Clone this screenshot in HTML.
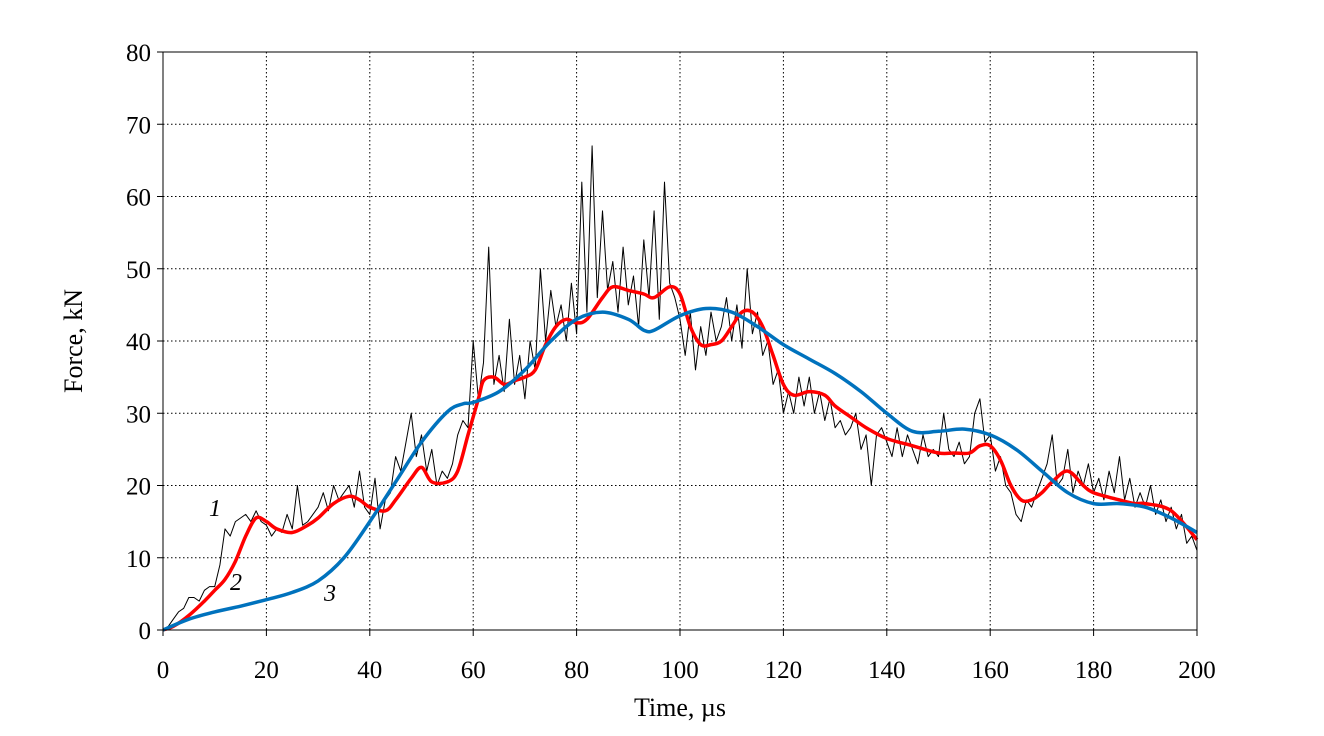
<!DOCTYPE html>
<html><head><meta charset="utf-8"><style>
body{margin:0;background:#fff;}
svg{display:block;font-family:"Liberation Serif",serif;}
</style></head><body>
<svg id="chart" width="1324" height="736">
<g id="grid"></g>
<g id="series"></g>
<rect x="163" y="52" width="1034" height="578" fill="none" stroke="#000" stroke-width="1"/>
<g id="ticks"></g>
<text x="680" y="716" font-size="26" text-anchor="middle">Time, µs</text>
<text x="0" y="0" font-size="26" text-anchor="middle" transform="translate(82,341) rotate(-90)">Force, kN</text>
<text x="215" y="516" font-size="24" font-style="italic" text-anchor="middle">1</text>
<text x="236" y="590" font-size="24" font-style="italic" text-anchor="middle">2</text>
<text x="330" y="601" font-size="24" font-style="italic" text-anchor="middle">3</text>
</svg>
<script>
const xTicks=[0,20,40,60,80,100,120,140,160,180,200];
const yTicks=[0,10,20,30,40,50,60,70,80];
const blueT=[0,5,10,15,20,25,30,35,40,45,50,55,58,60,65,70,75,80,85,90,93,95,100,105,110,115,120,125,130,135,140,145,150,155,160,165,170,175,180,185,190,195,200];
const blueV=[0,1.5,2.5,3.3,4.2,5.2,6.8,10,15,20.5,26,30.2,31.3,31.5,33,36,40,43,44,43,41.5,41.5,43.5,44.5,44,42,39.5,37.5,35.5,33,30,27.5,27.5,27.8,27,25,22,19,17.5,17.5,17,15.5,13.5];
const redT=[0,2,5,8,10,12,14,16,18,20,22,25,28,30,33,36,38,40,43,45,48,50,52,55,57,59,61,62,64,66,68,70,72,74,76,78,80,82,85,87,90,93,95,98,100,102,104,106,108,110,112,114,116,118,120,122,125,128,130,133,136,140,145,150,153,156,158,160,162,164,166,168,170,172,175,178,180,185,188,190,195,200];
const redV=[0,0.5,2,4,5.5,7,9.5,13,15.5,15,14,13.5,14.5,15.5,17.5,18.5,18,17,16.5,18,21,22.5,20.5,20.5,22,27,32,34.5,35,34,34.5,35,36,39.5,42,43,42.5,43,46,47.5,47,46.5,46,47.5,46.5,42,39.5,39.5,40,42,44,44,42,38,34,32.5,33,32.5,31,29.5,28,26.5,25.5,24.5,24.5,24.5,25.5,25.5,23.5,20,18,18,19,20.5,22,20,19,18,17.5,17.5,16.5,12.5];
const blackV=[0,0.5,1.5,2.5,3,4.5,4.5,4,5.5,6,6,9,14,13,15,15.5,16,15,16.5,15,14.5,13,14,13.5,16,14,20,14.5,15,16,17,19,16.5,20,18,19,20,17,22,17,16,21,14,18,19,24,22,26,30,24,27,22,25,20,22,21,23,27,29,28,40,32,37,53,34,38,33,43,34,38,32,40,36,50,40,47,42,45,40,48,41,62,44,67,46,58,47,51,44,53,45,49,42,54,46,58,43,62,48,46,43,38,44,36,42,38,44,40,42,46,40,45,39,50,41,44,38,40,34,36,30,33,30,35,31,35,30,33,29,32,28,29,27,28,30,25,27,20,27,28,26,24,28,24,27,25,23,27,24,25,24,30,25,24,26,23,24,30,32,26,27,22,24,20,19,16,15,18,17,19,21,23,27,20,21,25,19,22,20,23,19,21,18,22,19,24,18,21,17,19,17,20,16,18,15,17,14,16,12,13,11];
const X=t=>163+t*1034/200, Y=v=>630-v*578/80;
const NS="http://www.w3.org/2000/svg";
function mk(tag,attrs,parent){const e=document.createElementNS(NS,tag);for(const k in attrs)e.setAttribute(k,attrs[k]);parent.appendChild(e);return e;}
const grid=document.getElementById('grid'),ticks=document.getElementById('ticks'),series=document.getElementById('series');
xTicks.forEach(t=>{
 const l=mk('line',{x1:X(t),x2:X(t),y1:52,y2:630,stroke:'#000','stroke-width':1,'stroke-dasharray':'1.5,2.5'},grid);
 
 
 const tk=mk('line',{x1:X(t),x2:X(t),y1:630,y2:636,stroke:'#000'},ticks);
 
 
 const tx=mk('text',{x:X(t),y:678,'font-size':25,'text-anchor':'middle'},ticks);tx.textContent=t;
 
 
});
yTicks.forEach(v=>{
 const l=mk('line',{x1:163,x2:1197,y1:Y(v),y2:Y(v),stroke:'#000','stroke-width':1,'stroke-dasharray':'1.5,2.5'},grid);
 
 
 const tk=mk('line',{x1:157,x2:163,y1:Y(v),y2:Y(v),stroke:'#000'},ticks);
 
 
 const tx=mk('text',{x:151,y:Y(v)+9,'font-size':25,'text-anchor':'end'},ticks);tx.textContent=v;
 
 
});
function path(ts,vs,color,w,name,smooth){
 const P=ts.map((t,i)=>[X(t),Y(vs[i])]);
 let d='M'+P[0][0].toFixed(1)+','+P[0][1].toFixed(1);
 for(let i=0;i<P.length-1;i++){
  if(!smooth){d+='L'+P[i+1][0].toFixed(1)+','+P[i+1][1].toFixed(1);continue;}
  const p0=P[Math.max(0,i-1)],p1=P[i],p2=P[i+1],p3=P[Math.min(P.length-1,i+2)];
  const c1=[p1[0]+(p2[0]-p0[0])/6,p1[1]+(p2[1]-p0[1])/6],c2=[p2[0]-(p3[0]-p1[0])/6,p2[1]-(p3[1]-p1[1])/6];
  d+='C'+c1[0].toFixed(1)+','+c1[1].toFixed(1)+' '+c2[0].toFixed(1)+','+c2[1].toFixed(1)+' '+p2[0].toFixed(1)+','+p2[1].toFixed(1);
 }
 const p=mk('path',{d:d,fill:'none',stroke:color,'stroke-width':w,'stroke-linejoin':'round'},series);
 
 
}
path(blackV.map((_,i)=>i),blackV,'#000',1,'measured-force-line-1',false);
path(redT,redV,'#f00',3.5,'filtered-force-line-2',true);
path(blueT,blueV,'#0072bd',3.5,'model-force-line-3',true);
</script>
</body></html>
